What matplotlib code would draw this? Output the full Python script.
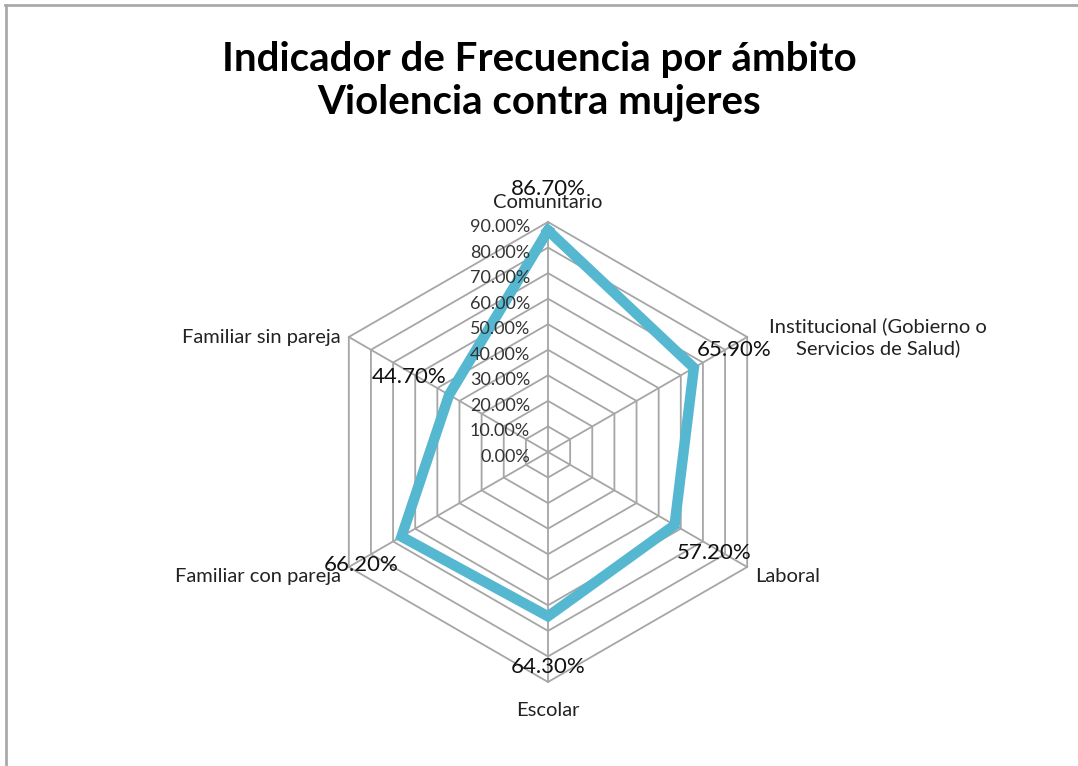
import numpy as np
import matplotlib.pyplot as plt
from matplotlib.lines import Line2D

categories = ["Comunitario", "Institucional (Gobierno o\nServicios de Salud)", "Laboral",
              "Escolar", "Familiar con pareja", "Familiar sin pareja"]
values = [86.7, 65.9, 57.2, 64.3, 66.2, 44.7]
ticks = [0, 10, 20, 30, 40, 50, 60, 70, 80, 90]
tick_labels = ["%.2f%%" % t for t in ticks]

W, H, DPI = 1078, 766, 100
CX, CY = 548, 452          # chart centre in pixels (from top)
R_PX = 230                 # radius of the 90% ring in pixels
HALF = 300                 # half size of the axes box in pixels
RMAX = ticks[-1]

plt.rcParams['font.family'] = ['Lato', 'DejaVu Sans']
fig = plt.figure(figsize=(W / DPI, H / DPI), dpi=DPI)
ax = fig.add_axes([(CX - HALF) / W, (H - CY - HALF) / H, 2 * HALF / W, 2 * HALF / H])
lim = HALF / R_PX * RMAX
ax.set_xlim(-lim, lim)
ax.set_ylim(-lim, lim)
ax.set_axis_off()

n = len(categories)
angles = np.pi / 2 - np.arange(n) * 2 * np.pi / n


def to_xy(r, a):
    return r * np.cos(a), r * np.sin(a)


grid_color = '#A6A6A6'
# hexagonal rings
for t in ticks[1:]:
    xs, ys = to_xy(t, np.append(angles, angles[0]))
    ax.plot(xs, ys, color=grid_color, lw=1.3, zorder=1)
# spokes
for a in angles:
    xs, ys = to_xy(np.array([0, RMAX]), a)
    ax.plot(xs, ys, color=grid_color, lw=1.3, zorder=1)

# data polygon
v = np.array(values)
xs, ys = to_xy(np.append(v, v[0]), np.append(angles, angles[0]))
ax.plot(xs, ys, color='#56B8D0', lw=7.5, solid_joinstyle='miter', zorder=3)

# scale labels along the top spoke
for t, lab in zip(ticks, tick_labels):
    ax.annotate(lab, (0, t), xytext=(-18, -5), textcoords='offset pixels',
                ha='right', va='center', fontsize=13, color='#333333', zorder=4)

# data labels
for val, a in zip(values, angles):
    px, py = to_xy(val, a)
    dx, dy = 46 * np.cos(a), 46 * np.sin(a) - 5
    ax.annotate("%.2f%%" % val, (px, py), xytext=(dx, dy), textcoords='offset pixels',
                ha='center', va='center', fontsize=16, color='#111111', zorder=5)

# category labels
for cat, a in zip(categories, angles):
    px, py = to_xy(RMAX, a)
    c, s = np.cos(a), np.sin(a)
    if abs(c) < 0.1:
        ha = 'center'
        off = (0, 20 if s > 0 else -28)
    elif c > 0:
        ha = 'left'
        off = (8, -9 if s < 0 else 0)
        if '\n' in cat:
            ha = 'center'
            off = (131, 0)
    else:
        ha = 'right'
        off = (-8, -9 if s < 0 else 0)
    ax.annotate(cat, (px, py), xytext=off, textcoords='offset pixels',
                ha=ha, va='center', fontsize=14.5, color='#222222',
                linespacing=1.25, zorder=5)

fig.text(0.5, 1 - 81 / H, "Indicador de Frecuencia por ámbito\nViolencia contra mujeres",
         ha='center', va='center', fontsize=29, fontweight='bold', linespacing=1.2)

# outer frame (top and left edges visible)
fig.add_artist(Line2D([5 / W, 1], [1 - 4.5 / H, 1 - 4.5 / H], transform=fig.transFigure,
                      color='#AAAAAA', lw=2))
fig.add_artist(Line2D([5.5 / W, 5.5 / W], [0, 1 - 4.5 / H], transform=fig.transFigure,
                      color='#AAAAAA', lw=2))

fig.savefig('out.png', dpi=DPI)
